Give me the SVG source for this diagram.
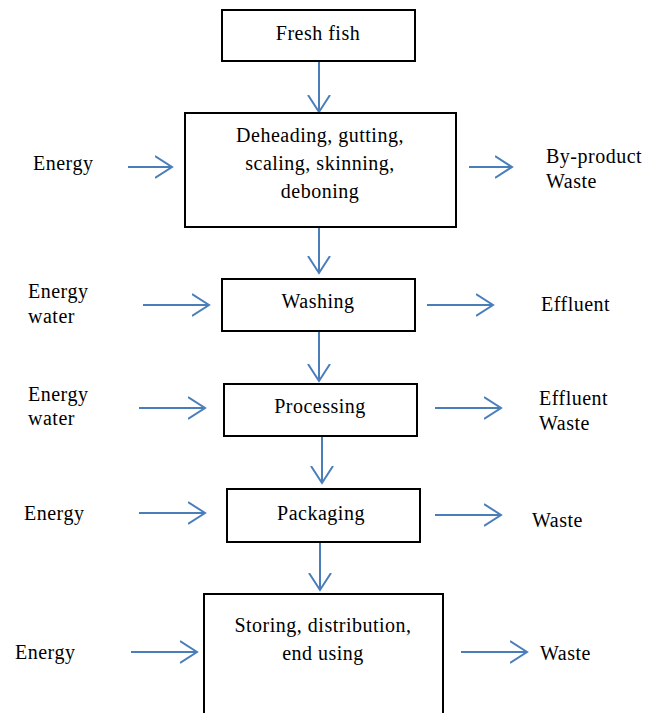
<svg xmlns="http://www.w3.org/2000/svg" width="645" height="713" viewBox="0 0 645 713">
<defs>
<marker id="ah" markerWidth="20" markerHeight="26" refX="17" refY="12" orient="auto" markerUnits="userSpaceOnUse">
<path d="M0,1 L17,12 L0,23" fill="none" stroke="#4a7ebb" stroke-width="2"/>
</marker>
<style>
.box{fill:#fff;stroke:#000;stroke-width:2}
.t{font-family:"Liberation Serif","Times New Roman",serif;font-size:20px;letter-spacing:0.5px;fill:#000}
.c{text-anchor:middle}
.arr{stroke:#4a7ebb;stroke-width:2;fill:none;marker-end:url(#ah)}
</style>
</defs>
<rect width="645" height="713" fill="#fff"/>
<g id="connectors">
<line class="arr" x1="319" y1="62" x2="319" y2="112"/>
<line class="arr" x1="319" y1="228" x2="319" y2="273"/>
<line class="arr" x1="319" y1="332" x2="319" y2="381"/>
<line class="arr" x1="322" y1="437" x2="322" y2="483"/>
<line class="arr" x1="320" y1="543" x2="320" y2="590"/>
<line class="arr" x1="128" y1="167" x2="172" y2="167"/>
<line class="arr" x1="469" y1="167" x2="512" y2="167"/>
<line class="arr" x1="143" y1="305" x2="209" y2="305"/>
<line class="arr" x1="427" y1="305" x2="493" y2="305"/>
<line class="arr" x1="139" y1="408" x2="205" y2="408"/>
<line class="arr" x1="435" y1="408" x2="501" y2="408"/>
<line class="arr" x1="139" y1="513" x2="205" y2="513"/>
<line class="arr" x1="435" y1="515" x2="501" y2="515"/>
<line class="arr" x1="131" y1="652" x2="197" y2="652"/>
<line class="arr" x1="461" y1="652" x2="527" y2="652"/>
</g>
<g id="fresh-fish">
<rect class="box" x="222" y="10" width="193" height="51"/>
<text class="t c" x="318" y="40">Fresh fish</text>
</g>
<g id="deheading">
<rect class="box" x="185" y="113" width="271" height="114"/>
<text class="t c" x="320" y="142">Deheading, gutting,</text>
<text class="t c" x="320" y="170">scaling, skinning,</text>
<text class="t c" x="320" y="198">deboning</text>
</g>
<g id="washing">
<rect class="box" x="222" y="279" width="193" height="52"/>
<text class="t c" x="318" y="308">Washing</text>
</g>
<g id="processing">
<rect class="box" x="224" y="384" width="193" height="52"/>
<text class="t c" x="320" y="413">Processing</text>
</g>
<g id="packaging">
<rect class="box" x="227" y="489" width="193" height="53"/>
<text class="t c" x="321" y="520">Packaging</text>
</g>
<g id="storing">
<path d="M204,714 L204,594 L443,594 L443,714" fill="#fff" stroke="#000" stroke-width="2"/>
<text class="t c" x="323" y="632">Storing, distribution,</text>
<text class="t c" x="323" y="660">end using</text>
</g>
<g id="labels">
<text class="t" x="33" y="170">Energy</text>
<text class="t" x="546" y="163">By-product</text>
<text class="t" x="546" y="188">Waste</text>
<text class="t" x="28" y="298">Energy</text>
<text class="t" x="28" y="323">water</text>
<text class="t" x="541" y="311">Effluent</text>
<text class="t" x="28" y="401">Energy</text>
<text class="t" x="28" y="425">water</text>
<text class="t" x="539" y="405">Effluent</text>
<text class="t" x="539" y="430">Waste</text>
<text class="t" x="24" y="520">Energy</text>
<text class="t" x="532" y="527">Waste</text>
<text class="t" x="15" y="659">Energy</text>
<text class="t" x="540" y="660">Waste</text>
</g>
</svg>
